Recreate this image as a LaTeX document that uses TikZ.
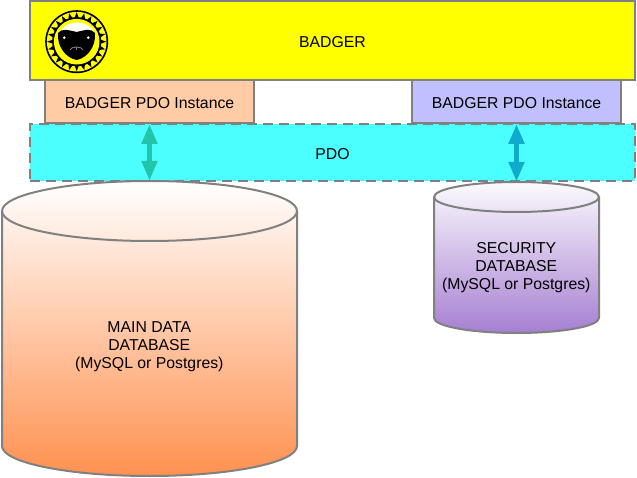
\documentclass[tikz,border=0pt]{standalone}
\usepackage{fontspec}
\setmainfont{Liberation Sans}
\usetikzlibrary{arrows.meta,calc}

\begin{document}
\begin{tikzpicture}[x=1pt,y=-1pt,
    box/.style={draw=edgegray,line width=2pt,minimum height=#1,inner sep=0pt,
        text height=14pt,text depth=0pt,font=\fontsize{15.8}{18}\selectfont},
    linkarrow/.style={{Triangle[width=15pt,length=20pt]}-{Triangle[width=15pt,length=20pt]},line width=5pt},
    dblabel/.style={align=center,font=\fontsize{15.8}{18}\selectfont}]

    \definecolor{edgegray}{HTML}{808080}
    \definecolor{badgeryellow}{HTML}{FFFF00}
    \definecolor{pdocyan}{HTML}{4CFFFF}
    \definecolor{peach}{HTML}{FFCCA6}
    \definecolor{lavender}{HTML}{C0C0FF}
    \definecolor{linkgreen}{HTML}{22C4AA}
    \definecolor{linkblue}{HTML}{10AACC}
    \definecolor{dborange}{HTML}{FF9150}
    \definecolor{dbpurple}{HTML}{A67FD2}
    \definecolor{dbpale}{HTML}{FBFAFD}

    % args: name, centre x, top y, bottom y, half width, half height of the lid, top colour, bottom colour
    \newcommand{\dbcyl}[8]{
        \pgfmathsetmacro\midy{(#3+#4)/2}
        \pgfmathsetmacro\lidy{#3+#6}
        \pgfmathsetmacro\basey{#4-#6}
        \shade[top color=#7,bottom color=#8]
        (#2-#5,\lidy) arc (180:360:#5 and #6) -- (#2+#5,\basey)
        arc (0:180:#5 and #6) -- cycle;
        \draw[edgegray,line width=2pt]
        (#2-#5,\lidy) arc (180:360:#5 and #6) -- (#2+#5,\basey)
        arc (0:180:#5 and #6) -- cycle;
        \draw[edgegray,line width=2pt] (#2-#5,\lidy) arc (180:0:#5 and #6);
        \node[minimum width=2*#5,minimum height=#4-#3,inner sep=0pt] (#1) at (#2,\midy) {};
    }

    \useasboundingbox (0,0) rectangle (637,478);

    \node[box=57pt,minimum width=605pt,fill=pdocyan,dash pattern=on 10pt off 6pt] (pdo) at (332.5,152.5) {PDO};
    \node[box=79pt,minimum width=605pt,fill=badgeryellow] (badger) at (332.5,41) {BADGER};
    \node[box=43pt,minimum width=209pt,fill=peach,anchor=south] (maininst) at (149.5,124) {BADGER PDO Instance};
    \node[box=43pt,minimum width=209pt,fill=lavender,anchor=south] (secinst) at (516.5,124) {BADGER PDO Instance};

    \dbcyl{maindb}{149.5}{181}{476}{147.5}{30}{white}{dborange}
    \dbcyl{secdb}{516.5}{182}{333}{82.5}{15}{dbpale}{dbpurple}
    \node[dblabel] (mainlabel) at (149.3,347) {MAIN DATA\\DATABASE\\(MySQL or Postgres)};
    \node[dblabel] (seclabel) at (516.3,268) {SECURITY\\DATABASE\\(MySQL or Postgres)};

    \draw[linkarrow,linkgreen] (maininst.south) -- (maindb.north);
    \draw[linkarrow,linkblue] (secinst.south) -- (secdb.north);

    % logo
    \coordinate (logo) at (76.7,41.7);
    \fill[black] (logo) circle (31.5);
    \fill[badgeryellow] (logo) circle (29.8);
    \foreach \a in {0,15,...,345} {
        \fill[black] ($(logo)+(\a:29.5)$) -- ($(logo)+(\a+5:24)$) -- ($(logo)+(\a-5:24)$) -- cycle;
    }
    \fill[black] (logo) circle (24.6);
    \fill[badgeryellow] (logo) circle (22.8);
    \fill[white] (60,32) .. controls (64,25) and (70,22.5) .. (76.7,22.5)
        .. controls (84,22.5) and (90,25) .. (94,32) -- cycle;
    \fill[black] (76.7,60) .. controls (66,58) and (57,47) .. (58,33)
        .. controls (62,28) and (68,30) .. (76.7,32)
        .. controls (85,30) and (91,28) .. (95,33)
        .. controls (96,47) and (87,58) .. (76.7,60) -- cycle;
    \fill[white] (64.3,37.7) circle (1.4);
    \fill[white] (88.3,37.7) circle (1.4);
    \draw[edgegray,line width=0.9pt] (70,50) .. controls (71,46) and (82,46) .. (83,50);
    \draw[edgegray,line width=0.9pt] (76.7,47) -- (76.7,50);

\end{tikzpicture}
\end{document}
